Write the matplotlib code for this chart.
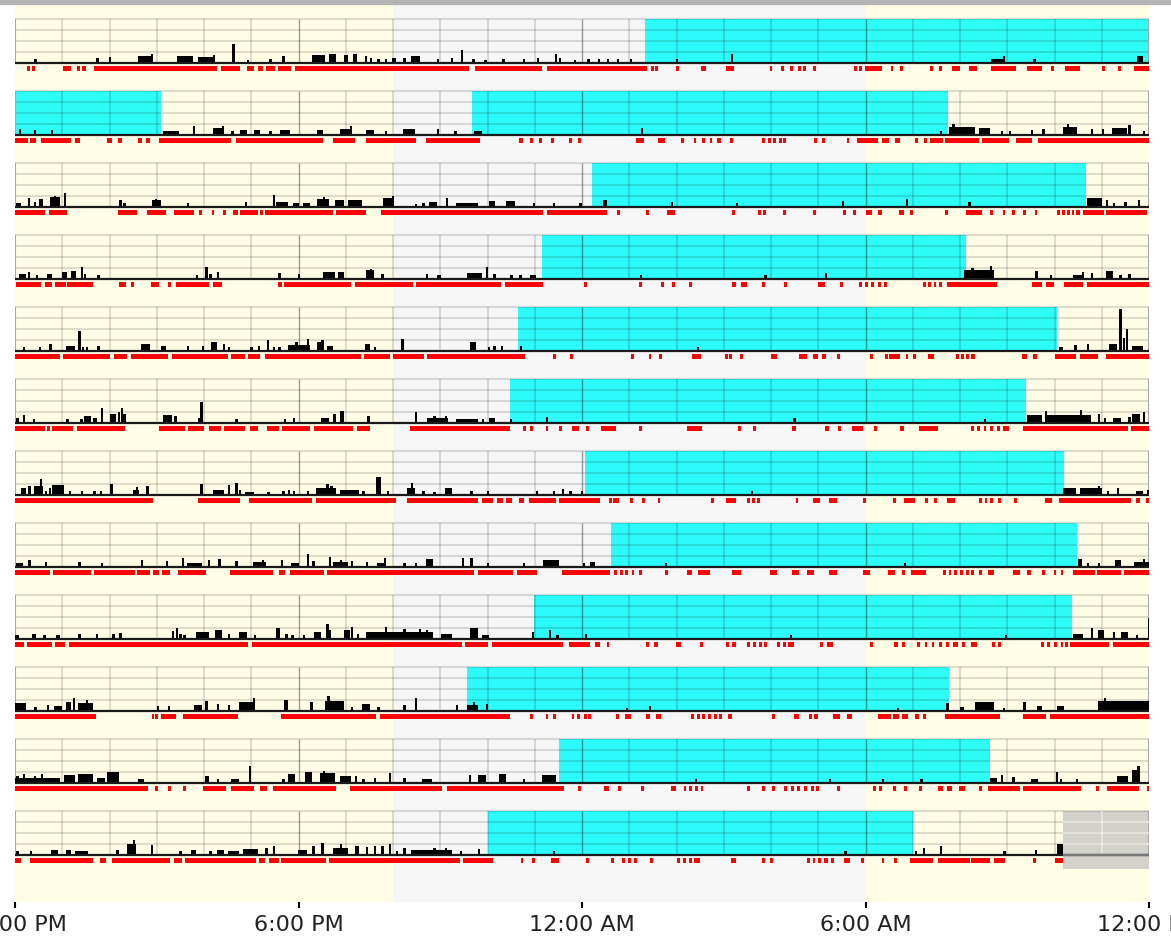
import matplotlib
matplotlib.use("Agg")
import matplotlib.pyplot as plt
from matplotlib.patches import Rectangle

# hours after 12:00 PM, one list per day row
rest_periods = [
    [(13.33, 24.0)],
    [(0.0, 3.09), (9.67, 19.75)],
    [(12.22, 22.66)],
    [(11.15, 20.13)],
    [(10.64, 22.06)],
    [(10.48, 21.39)],
    [(12.06, 22.21)],
    [(12.62, 22.47)],
    [(10.99, 22.37)],
    [(9.57, 19.76)],
    [(11.51, 20.63)],
    [(10.01, 19.0)],
]

# activity: (start hour, end hour, fraction of row height)
activity = [
    [(0.41, 0.41, .09), (1.71, 1.77, .12), (1.98, 1.98, .13), (2.61, 2.92, .15), (2.88, 2.88, .21),
     (3.43, 3.76, .15), (3.87, 4.22, .14), (4.19, 4.19, .19), (4.60, 4.60, .44), (4.90, 4.90, .06),
     (5.38, 5.38, .08), (5.66, 5.72, .15), (6.29, 6.56, .19), (6.64, 6.80, .21), (6.96, 7.04, .19),
     (7.15, 7.24, .21), (7.40, 7.40, .15), (7.51, 7.51, .11), (7.67, 7.67, .08), (7.83, 7.83, .08),
     (7.98, 8.06, .11), (8.22, 8.22, .11), (8.38, 8.57, .15), (8.93, 8.93, .08), (9.22, 9.22, .11),
     (9.44, 9.44, .29), (9.68, 9.68, .08), (9.93, 9.93, .06), (10.31, 10.31, .08), (10.75, 10.75, .08),
     (11.04, 11.04, .11), (11.43, 11.43, .21), (11.51, 11.51, .11), (11.83, 11.83, .06), (12.11, 12.11, .08),
     (12.33, 12.33, .08), (12.52, 12.52, .08), (12.74, 12.74, .08), (13.01, 13.01, .09), (13.99, 13.99, .08),
     (15.15, 15.15, .21), (20.66, 20.90, .10), (20.90, 20.90, .15), (21.55, 21.55, .10), (23.75, 23.87, .15)],
    [(0.08, 0.08, .14), (0.40, 0.40, .12), (0.76, 0.76, .12), (3.13, 3.48, .08), (3.76, 3.76, .20),
     (4.19, 4.43, .15), (4.38, 4.38, .20), (4.58, 4.58, .08), (4.77, 4.90, .11), (5.06, 5.19, .12),
     (5.38, 5.38, .08), (5.61, 5.82, .12), (6.40, 6.51, .11), (6.88, 7.11, .13), (7.08, 7.08, .20),
     (7.43, 7.59, .12), (7.83, 7.83, .08), (8.22, 8.46, .14), (8.93, 8.93, .14), (9.30, 9.30, .10),
     (9.72, 9.88, .08), (13.25, 13.25, .15), (19.57, 19.57, .08), (19.76, 20.32, .18), (19.84, 19.84, .25),
     (20.40, 20.63, .15), (20.87, 20.87, .08), (21.03, 21.03, .08), (21.50, 21.50, .11), (21.74, 21.74, .14),
     (22.17, 22.48, .18), (22.26, 22.26, .25), (22.77, 22.77, .14), (23.00, 23.00, .14), (23.21, 23.53, .15),
     (23.56, 23.56, .22), (23.87, 23.87, .08)],
    [(0.03, 0.13, .10), (0.27, 0.27, .20), (0.40, 0.40, .12), (0.51, 0.60, .18), (0.74, 0.95, .22),
     (0.82, 0.82, .25), (1.03, 1.03, .32), (2.21, 2.21, .16), (2.29, 2.29, .08), (2.89, 3.08, .15),
     (2.96, 2.96, .18), (3.64, 3.64, .08), (4.87, 4.87, .12), (5.45, 5.45, .28), (5.53, 5.77, .11),
     (5.88, 6.00, .10), (6.09, 6.25, .08), (6.40, 6.64, .18), (6.51, 6.51, .22), (6.77, 6.96, .15),
     (7.05, 7.35, .15), (7.78, 8.00, .20), (7.98, 7.98, .25), (8.46, 8.46, .06), (8.62, 8.62, .08),
     (8.77, 8.93, .12), (9.12, 9.12, .20), (9.33, 9.80, .08), (10.04, 10.15, .14), (10.39, 10.59, .14),
     (10.96, 10.96, .08), (11.38, 11.38, .08), (11.94, 11.94, .08), (12.44, 12.52, .15), (13.88, 13.88, .12),
     (15.26, 15.26, .08), (17.50, 17.50, .14), (18.85, 18.85, .18), (20.16, 20.24, .12), (22.69, 23.00, .20),
     (23.08, 23.08, .15), (23.24, 23.24, .10), (23.48, 23.48, .12), (23.77, 23.77, .16)],
    [(0.08, 0.24, .12), (0.27, 0.27, .15), (0.44, 0.44, .10), (0.68, 0.79, .12), (1.00, 1.11, .15),
     (1.19, 1.30, .18), (1.39, 1.39, .28), (1.45, 1.50, .12), (1.74, 1.74, .08), (3.83, 3.83, .10),
     (4.03, 4.03, .28), (4.11, 4.11, .12), (4.27, 4.27, .17), (5.57, 5.57, .13), (5.98, 5.98, .11),
     (6.51, 6.77, .17), (6.83, 6.96, .17), (7.43, 7.59, .20), (7.51, 7.51, .22), (7.75, 7.75, .12),
     (8.70, 8.70, .12), (8.93, 9.01, .08), (9.56, 9.88, .14), (9.96, 9.96, .28), (10.12, 10.12, .12),
     (10.48, 10.48, .10), (10.67, 10.67, .08), (10.91, 11.02, .08), (13.22, 13.22, .08), (15.86, 15.86, .08),
     (17.14, 17.14, .14), (20.09, 20.71, .20), (20.24, 20.24, .25), (20.63, 20.63, .30), (21.58, 21.66, .18),
     (21.90, 21.90, .10), (22.40, 22.58, .10), (22.58, 22.58, .15), (22.77, 22.77, .14), (23.08, 23.24, .18),
     (23.37, 23.37, .10), (23.56, 23.56, .12)],
    [(0.16, 0.16, .10), (0.51, 0.51, .10), (0.71, 0.79, .16), (1.08, 1.26, .12), (1.34, 1.34, .45),
     (1.42, 1.42, .10), (1.50, 1.50, .10), (1.74, 1.74, .12), (2.66, 2.85, .15), (3.08, 3.19, .12),
     (3.64, 3.64, .12), (3.95, 3.95, .12), (4.14, 4.27, .20), (4.40, 4.40, .15), (4.51, 4.51, .10),
     (4.98, 4.98, .10), (5.14, 5.14, .12), (5.33, 5.33, .25), (5.45, 5.45, .10), (5.57, 5.57, .10),
     (5.77, 6.25, .14), (5.93, 5.93, .20), (6.17, 6.17, .27), (6.40, 6.51, .20), (6.48, 6.48, .25),
     (6.61, 6.72, .12), (7.40, 7.51, .15), (7.59, 7.59, .10), (8.17, 8.24, .28), (9.64, 9.76, .20),
     (10.00, 10.00, .10), (10.12, 10.12, .12), (10.28, 10.28, .12), (10.69, 10.69, .12), (14.43, 14.43, .08),
     (22.10, 22.17, .10), (22.42, 22.42, .13), (22.69, 22.69, .16), (23.16, 23.32, .15), (23.37, 23.37, .96),
     (23.45, 23.45, .30), (23.51, 23.51, .50), (23.64, 23.87, .12)],
    [(0.03, 0.03, .12), (0.16, 0.16, .18), (0.38, 0.38, .08), (1.08, 1.15, .08), (1.38, 1.38, .08),
     (1.47, 1.61, .15), (1.66, 1.74, .12), (1.82, 1.82, .35), (2.01, 2.13, .20), (2.18, 2.18, .25),
     (2.24, 2.24, .35), (2.29, 2.29, .20), (3.13, 3.32, .18), (3.37, 3.37, .15), (3.87, 3.98, .12),
     (3.92, 3.92, .48), (4.66, 4.66, .10), (5.69, 5.69, .10), (5.88, 5.93, .12), (6.48, 6.64, .12),
     (6.72, 6.80, .20), (6.88, 6.96, .28), (7.46, 7.46, .15), (8.46, 8.46, .25), (8.73, 9.17, .12),
     (8.85, 8.85, .15), (9.09, 9.09, .17), (9.33, 9.80, .10), (9.88, 9.88, .10), (10.04, 10.15, .12),
     (10.47, 10.47, .10), (11.23, 11.23, .13), (16.47, 16.47, .12), (20.51, 20.51, .08), (21.42, 21.74, .18),
     (21.79, 21.79, .28), (21.82, 22.77, .18), (22.53, 22.53, .30), (22.92, 22.92, .20), (23.04, 23.04, .12),
     (23.24, 23.40, .12), (23.56, 23.56, .14), (23.64, 23.80, .20), (23.87, 23.87, .25)],
    [(0.13, 0.24, .15), (0.28, 0.28, .20), (0.40, 0.60, .20), (0.52, 0.52, .37), (0.63, 0.63, .10),
     (0.71, 0.71, .15), (0.79, 1.03, .22), (1.14, 1.14, .08), (1.39, 1.39, .08), (1.66, 1.66, .08),
     (1.79, 1.79, .10), (2.02, 2.02, .25), (2.50, 2.62, .12), (2.56, 2.56, .18), (2.78, 2.78, .20),
     (3.92, 3.92, .26), (4.19, 4.43, .12), (4.51, 4.51, .22), (4.66, 4.66, .28), (4.74, 4.74, .11),
     (4.87, 5.06, .07), (5.34, 5.34, .07), (5.66, 5.66, .08), (5.77, 5.77, .12), (5.88, 5.88, .08),
     (6.17, 6.17, .08), (6.36, 6.80, .15), (6.59, 6.59, .25), (6.67, 6.67, .20), (6.88, 7.27, .12),
     (7.35, 7.35, .10), (7.64, 7.75, .40), (7.87, 7.87, .10), (8.30, 8.46, .17), (8.38, 8.38, .28),
     (8.62, 8.62, .08), (8.85, 8.85, .06), (9.09, 9.25, .15), (9.64, 9.64, .10), (9.99, 9.99, .08),
     (11.02, 11.02, .08), (11.38, 11.38, .08), (11.57, 11.57, .14), (11.73, 11.73, .08), (11.98, 11.98, .10),
     (15.57, 15.57, .08), (22.17, 22.45, .15), (22.53, 23.00, .15), (22.92, 22.92, .20), (23.11, 23.11, .10),
     (23.32, 23.32, .15), (23.72, 23.87, .10), (23.95, 23.95, .12)],
    [(0.03, 0.16, .10), (0.28, 0.28, .16), (0.63, 0.63, .11), (1.34, 1.34, .11), (1.82, 1.82, .08),
     (2.66, 2.66, .15), (3.19, 3.19, .14), (3.53, 3.53, .20), (3.64, 3.95, .08), (4.08, 4.08, .15),
     (4.30, 4.30, .18), (4.66, 4.66, .13), (5.03, 5.31, .12), (5.22, 5.22, .17), (5.63, 5.63, .17),
     (5.85, 6.00, .10), (6.17, 6.17, .30), (6.29, 6.29, .13), (6.64, 6.64, .22), (6.72, 7.04, .12),
     (6.88, 6.88, .17), (7.11, 7.11, .14), (7.43, 7.43, .12), (7.67, 7.83, .08), (7.80, 7.80, .20),
     (8.22, 8.22, .08), (8.46, 8.46, .08), (8.70, 8.85, .18), (9.45, 9.45, .20), (9.64, 9.64, .20),
     (9.99, 9.99, .08), (10.75, 10.75, .08), (11.18, 11.51, .15), (12.02, 12.02, .10), (12.17, 12.28, .12),
     (13.75, 13.75, .08), (18.81, 18.81, .08), (22.50, 22.58, .18), (22.69, 22.69, .10), (22.92, 22.92, .08),
     (23.27, 23.40, .16), (23.68, 24.00, .12), (23.87, 23.87, .18)],
    [(0.00, 0.08, .08), (0.35, 0.44, .12), (0.60, 0.60, .10), (0.87, 0.95, .10), (1.34, 1.34, .12),
     (1.71, 1.71, .12), (2.06, 2.06, .12), (2.21, 2.21, .14), (3.32, 3.32, .18), (3.40, 3.40, .25),
     (3.48, 3.48, .12), (3.56, 3.56, .10), (3.83, 4.11, .15), (4.24, 4.38, .20), (4.51, 4.51, .12),
     (4.74, 4.90, .17), (5.06, 5.06, .08), (5.53, 5.61, .25), (5.72, 5.72, .12), (5.85, 5.85, .10),
     (6.09, 6.09, .10), (6.32, 6.48, .15), (6.59, 6.59, .33), (6.64, 6.64, .20), (6.96, 7.08, .20),
     (7.11, 7.11, .27), (7.24, 7.24, .12), (7.43, 8.85, .16), (7.83, 7.83, .28), (8.22, 8.22, .22),
     (8.54, 8.54, .22), (8.70, 8.70, .20), (9.01, 9.25, .12), (9.64, 9.80, .25), (9.88, 10.04, .10),
     (10.94, 10.94, .15), (11.30, 11.30, .21), (11.46, 11.46, .08), (12.06, 12.06, .12), (16.40, 16.40, .08),
     (20.95, 20.95, .08), (22.40, 22.61, .12), (22.77, 22.77, .25), (22.92, 23.04, .20), (23.24, 23.24, .15),
     (23.40, 23.56, .15), (23.72, 23.72, .10), (23.97, 23.97, .47)],
    [(0.00, 0.24, .18), (0.40, 0.47, .10), (0.68, 0.68, .14), (0.82, 1.00, .12), (1.08, 1.19, .20),
     (1.23, 1.23, .30), (1.34, 1.66, .18), (1.50, 1.50, .25), (3.00, 3.00, .12), (3.24, 3.24, .12),
     (3.79, 3.95, .14), (4.03, 4.03, .22), (4.27, 4.27, .15), (4.51, 4.51, .14), (4.74, 5.06, .20),
     (5.03, 5.03, .30), (5.69, 5.77, .25), (6.25, 6.25, .20), (6.56, 6.96, .22), (6.61, 6.61, .33),
     (7.11, 7.11, .08), (7.35, 7.51, .17), (7.67, 7.67, .08), (8.22, 8.22, .14), (8.46, 8.46, .30),
     (9.33, 9.33, .14), (9.57, 9.80, .14), (9.69, 9.69, .20), (9.96, 9.96, .16), (12.93, 12.93, .07),
     (13.41, 13.41, .12), (18.66, 18.66, .07), (19.71, 19.71, .18), (20.00, 20.08, .10), (20.32, 20.71, .20),
     (20.90, 20.90, .07), (21.34, 21.34, .20), (21.63, 21.74, .12), (22.06, 22.21, .12), (22.92, 24.00, .22),
     (23.04, 23.04, .30)],
    [(0.00, 0.95, .12), (0.03, 0.03, .15), (0.16, 0.16, .20), (0.40, 0.40, .15), (0.55, 0.55, .20),
     (1.03, 1.26, .18), (1.34, 1.66, .20), (1.74, 1.90, .12), (1.95, 2.21, .25), (2.61, 2.74, .10),
     (4.03, 4.11, .15), (4.27, 4.27, .08), (4.58, 4.74, .10), (4.95, 4.95, .38), (5.66, 5.66, .10),
     (5.77, 5.93, .20), (6.14, 6.29, .25), (6.45, 6.77, .22), (6.51, 6.51, .28), (6.88, 7.11, .15),
     (7.19, 7.19, .15), (7.35, 7.35, .10), (7.59, 7.59, .12), (7.91, 7.91, .22), (8.22, 8.22, .12),
     (8.62, 8.82, .10), (9.60, 9.60, .18), (9.80, 9.96, .18), (10.25, 10.40, .20), (10.75, 10.75, .08),
     (11.15, 11.46, .18), (14.39, 14.39, .09), (17.23, 17.23, .09), (18.34, 18.34, .08), (19.16, 19.16, .08),
     (20.63, 20.79, .12), (20.87, 20.87, .18), (21.11, 21.11, .14), (21.50, 21.66, .10), (22.03, 22.03, .24),
     (22.11, 22.11, .10), (22.45, 22.45, .10), (23.32, 23.56, .15), (23.64, 23.80, .30), (23.75, 23.75, .38)],
    [(0.03, 0.03, .08), (0.32, 0.32, .08), (0.76, 0.92, .12), (1.08, 1.19, .12), (1.26, 1.55, .10),
     (2.13, 2.21, .12), (2.37, 2.56, .25), (2.50, 2.50, .33), (2.88, 2.92, .22), (3.48, 3.48, .08),
     (3.72, 3.83, .12), (4.11, 4.11, .10), (4.27, 4.43, .12), (4.51, 4.74, .10), (4.82, 5.14, .13),
     (5.30, 5.30, .17), (5.45, 5.45, .20), (5.98, 6.17, .12), (6.29, 6.29, .20), (6.48, 6.48, .28),
     (6.72, 7.04, .17), (6.88, 6.88, .25), (7.19, 7.27, .20), (7.43, 7.43, .18), (7.59, 7.59, .20),
     (7.75, 7.75, .20), (7.91, 7.91, .25), (8.06, 8.06, .08), (8.22, 8.22, .15), (8.38, 9.25, .12),
     (8.85, 8.85, .17), (9.09, 9.09, .15), (9.41, 9.41, .08), (9.80, 9.80, .14), (11.38, 11.38, .10),
     (17.55, 17.55, .10), (19.05, 19.05, .08), (19.21, 19.21, .15), (19.57, 19.57, .20), (20.92, 20.92, .10),
     (21.58, 21.58, .12), (22.06, 22.17, .25)],
]

# red marks below each row: (start hour, end hour)
red_marks = [
    [(0.25, 0.32), (0.36, 0.43), (1.01, 1.19), (1.31, 1.38), (1.42, 1.50), (1.68, 4.27), (4.35, 4.77),
     (4.90, 5.06), (5.14, 5.25), (5.31, 5.50), (5.57, 5.85), (5.93, 9.61), (9.74, 11.15), (11.26, 13.38),
     (13.47, 13.47), (13.55, 13.55), (13.99, 13.99), (14.51, 14.62), (15.05, 15.21), (15.97, 15.97),
     (16.21, 16.28), (16.41, 16.41), (16.57, 16.57), (16.68, 16.68), (16.89, 16.89), (17.76, 17.76),
     (17.87, 17.87), (17.99, 18.34), (18.53, 18.53), (18.74, 18.74), (19.37, 19.37), (19.56, 19.56),
     (19.84, 20.00), (20.19, 20.35), (20.66, 21.19), (21.42, 21.74), (21.93, 21.93), (22.23, 22.53),
     (23.00, 23.00), (23.35, 23.35), (23.68, 24.00)],
    [(0.00, 0.27), (0.32, 0.44), (0.55, 1.19), (1.26, 1.38), (1.94, 2.06), (2.18, 2.26), (2.61, 2.69),
     (2.78, 2.85), (3.05, 4.58), (4.68, 6.51), (6.72, 7.19), (7.43, 8.49), (8.70, 9.85), (10.67, 10.75),
     (10.91, 10.91), (11.10, 11.10), (11.35, 11.35), (11.73, 11.73), (11.91, 11.91), (13.15, 13.31),
     (13.60, 13.75), (14.10, 14.10), (14.36, 14.36), (14.55, 14.55), (14.70, 14.70), (14.86, 14.94),
     (15.13, 15.13), (15.81, 15.84), (15.93, 15.96), (16.05, 16.08), (16.17, 16.20), (16.25, 16.28),
     (16.92, 16.92), (17.08, 17.08), (17.60, 17.60), (17.83, 18.26), (18.34, 18.50), (18.62, 18.74),
     (19.05, 19.05), (19.24, 19.24), (19.37, 19.64), (19.68, 20.40), (20.47, 21.03), (21.19, 21.53),
     (21.66, 24.00)],
    [(0.00, 0.63), (0.71, 1.11), (2.18, 2.58), (2.80, 3.19), (3.37, 3.79), (3.90, 3.90), (4.16, 4.16),
     (4.40, 4.40), (4.62, 4.71), (4.77, 5.14), (5.19, 5.19), (5.30, 6.72), (6.80, 7.43), (7.75, 11.18),
     (11.26, 12.52), (12.74, 12.74), (13.36, 13.36), (13.80, 13.96), (15.18, 15.18), (15.73, 15.73),
     (15.84, 15.84), (16.25, 16.25), (16.89, 16.89), (17.52, 17.52), (17.74, 17.74), (18.02, 18.13),
     (18.26, 18.34), (18.70, 18.81), (18.94, 18.94), (19.68, 19.68), (20.13, 20.47), (20.63, 20.63),
     (20.90, 20.90), (21.11, 21.11), (21.34, 21.34), (21.58, 21.58), (22.06, 22.10), (22.16, 22.20),
     (22.26, 22.30), (22.36, 22.40), (22.46, 22.53), (22.61, 23.05), (23.08, 23.95)],
    [(0.03, 0.55), (0.63, 0.79), (0.84, 1.08), (1.11, 1.66), (2.21, 2.34), (2.45, 2.45), (2.88, 3.04),
     (3.24, 3.24), (3.40, 4.11), (4.19, 4.38), (5.57, 5.66), (5.69, 7.11), (7.19, 8.43), (8.49, 10.28),
     (10.36, 11.18), (12.05, 12.05), (13.20, 13.20), (13.68, 13.68), (13.91, 13.91), (14.26, 14.26),
     (15.18, 15.26), (15.36, 15.49), (15.81, 15.81), (16.28, 16.28), (17.00, 17.15), (17.47, 17.47),
     (17.87, 17.92), (17.98, 18.05), (18.12, 18.18), (18.26, 18.32), (18.40, 18.45), (19.21, 19.26),
     (19.32, 19.38), (19.44, 19.50), (19.56, 19.62), (19.73, 20.79), (21.53, 21.74), (21.82, 21.98),
     (22.21, 22.61), (22.69, 24.00)],
    [(0.00, 0.95), (1.01, 2.02), (2.09, 2.37), (2.45, 3.24), (3.32, 4.51), (4.58, 4.87), (4.93, 5.19),
     (5.30, 7.32), (7.38, 7.94), (8.00, 8.66), (8.73, 10.80), (11.38, 11.38), (11.75, 11.75), (13.03, 13.03),
     (13.41, 13.41), (13.63, 13.63), (14.32, 14.51), (15.02, 15.05), (15.12, 15.18), (15.34, 15.34),
     (16.00, 16.13), (16.60, 16.76), (16.89, 17.00), (17.08, 17.17), (17.39, 17.39), (18.10, 18.10),
     (18.42, 18.42), (18.50, 18.74), (18.85, 18.85), (19.00, 19.00), (19.32, 19.45), (19.92, 19.96),
     (20.03, 20.07), (20.13, 20.17), (20.24, 20.32), (21.31, 21.42), (21.55, 21.63), (22.01, 22.45),
     (22.53, 22.92), (23.08, 24.00)],
    [(0.00, 0.63), (0.68, 0.74), (0.79, 1.23), (1.31, 2.32), (3.05, 3.59), (3.67, 4.00), (4.11, 4.35),
     (4.43, 4.87), (4.98, 5.14), (5.33, 5.58), (5.66, 6.25), (6.32, 7.16), (7.24, 7.51), (8.35, 10.48),
     (10.75, 10.75), (10.91, 10.91), (11.23, 11.23), (11.51, 11.51), (11.78, 11.94), (12.09, 12.09),
     (12.41, 12.73), (13.20, 13.20), (14.23, 14.55), (15.30, 15.30), (15.62, 15.62), (16.44, 16.52),
     (17.15, 17.23), (17.42, 17.42), (17.71, 17.94), (18.18, 18.18), (18.74, 18.81), (19.13, 19.53),
     (20.24, 20.28), (20.36, 20.40), (20.50, 20.54), (20.64, 20.68), (20.78, 20.82), (20.92, 21.03),
     (21.34, 23.56), (23.62, 24.00)],
    [(0.00, 2.92), (3.87, 4.77), (4.95, 6.29), (6.36, 8.06), (8.30, 9.80), (9.88, 10.12), (10.20, 10.32),
     (10.39, 10.51), (10.67, 10.78), (10.88, 11.45), (11.51, 12.38), (12.57, 12.60), (12.65, 12.68),
     (12.73, 12.77), (13.01, 13.01), (13.28, 13.28), (13.60, 13.60), (14.74, 14.74), (15.05, 15.26),
     (15.49, 15.52), (15.60, 15.63), (15.70, 15.73), (16.52, 16.52), (16.89, 17.04), (17.23, 17.39),
     (17.94, 17.94), (18.58, 18.58), (18.81, 19.05), (19.26, 19.26), (19.45, 19.45), (19.73, 19.89),
     (20.40, 20.44), (20.52, 20.56), (20.64, 20.68), (20.80, 20.87), (21.15, 21.15), (21.79, 21.94),
     (22.09, 23.62), (23.72, 23.80), (23.93, 23.93)],
    [(0.00, 0.74), (0.81, 1.60), (1.68, 2.53), (2.58, 2.85), (2.92, 3.04), (3.11, 3.29), (3.46, 4.05),
     (4.54, 5.47), (5.58, 5.72), (5.82, 6.53), (6.61, 9.72), (9.80, 10.53), (10.62, 11.04), (11.57, 12.60),
     (12.68, 12.72), (12.80, 12.84), (12.92, 12.96), (13.05, 13.09), (13.20, 13.28), (13.75, 13.75),
     (14.23, 14.33), (14.45, 14.70), (15.18, 15.37), (15.97, 16.13), (16.44, 16.60), (16.76, 16.92),
     (17.23, 17.39), (17.94, 18.10), (18.47, 18.62), (18.78, 18.78), (18.97, 19.29), (19.64, 19.68),
     (19.76, 19.80), (19.88, 19.92), (20.00, 20.04), (20.12, 20.16), (20.24, 20.28), (20.40, 20.44),
     (20.60, 20.71), (21.12, 21.26), (21.42, 21.50), (21.74, 21.74), (21.98, 21.98), (22.13, 22.13),
     (22.40, 22.85), (22.90, 23.40), (23.48, 24.00)],
    [(0.00, 0.19), (0.25, 0.79), (0.85, 1.06), (1.15, 4.93), (5.01, 9.45), (9.53, 10.02), (10.09, 11.59),
     (11.73, 12.17), (12.28, 12.38), (12.52, 12.52), (13.36, 13.40), (13.52, 13.60), (13.99, 14.10),
     (14.50, 14.50), (15.05, 15.09), (15.18, 15.26), (15.49, 15.53), (15.62, 15.66), (15.75, 15.79),
     (15.85, 15.89), (16.13, 16.17), (16.25, 16.29), (16.37, 16.49), (17.04, 17.08), (17.18, 17.31),
     (18.10, 18.10), (18.61, 18.69), (18.77, 18.81), (19.10, 19.14), (19.25, 19.29), (19.40, 19.44),
     (19.55, 19.59), (19.70, 19.74), (19.85, 19.95), (20.04, 20.08), (20.24, 20.36), (20.68, 20.72),
     (20.80, 20.87), (21.71, 21.75), (21.85, 21.89), (21.99, 22.03), (22.13, 22.17), (22.22, 22.26),
     (22.32, 23.16), (23.24, 24.00)],
    [(0.00, 1.71), (2.89, 2.93), (2.96, 3.00), (3.08, 3.40), (3.56, 4.71), (5.64, 7.64), (7.72, 10.48),
     (10.91, 10.91), (11.23, 11.27), (11.38, 11.46), (11.78, 11.82), (11.90, 11.94), (12.05, 12.09),
     (12.13, 12.17), (12.73, 12.77), (12.90, 13.04), (13.36, 13.44), (13.56, 13.68), (14.31, 14.35),
     (14.43, 14.47), (14.55, 14.59), (14.67, 14.71), (14.79, 14.83), (14.91, 14.95), (15.10, 15.18),
     (16.02, 16.02), (16.49, 16.60), (16.81, 16.85), (16.92, 17.00), (17.31, 17.45), (17.60, 17.71),
     (18.26, 18.54), (18.58, 18.70), (18.78, 18.89), (19.05, 19.13), (19.21, 19.29), (19.68, 20.84),
     (21.34, 21.82), (21.90, 24.00)],
    [(0.00, 2.81), (2.96, 2.96), (3.24, 3.24), (3.56, 3.56), (3.98, 4.46), (4.58, 5.06), (5.19, 5.34),
     (5.45, 6.80), (7.08, 9.04), (9.14, 11.62), (11.91, 11.91), (12.46, 12.57), (12.77, 12.77),
     (13.25, 13.25), (13.88, 13.99), (14.15, 14.19), (14.27, 14.31), (14.39, 14.43), (14.51, 14.55),
     (15.49, 15.49), (15.81, 15.81), (16.02, 16.02), (16.28, 16.32), (16.42, 16.46), (16.56, 16.60),
     (16.70, 16.74), (16.84, 16.88), (16.96, 17.00), (17.39, 17.39), (18.15, 18.22), (18.28, 18.34),
     (18.58, 18.58), (18.81, 18.81), (19.13, 19.13), (19.53, 19.63), (19.73, 19.84), (19.97, 20.11),
     (20.40, 20.40), (20.59, 21.27), (21.34, 22.56), (22.88, 22.88), (23.11, 23.78), (23.95, 23.95)],
    [(0.00, 0.13), (0.32, 1.66), (1.79, 1.93), (2.06, 3.29), (3.37, 3.53), (3.59, 5.11), (5.16, 5.30),
     (5.38, 5.58), (5.64, 6.59), (6.64, 9.41), (9.49, 10.12), (10.70, 10.70), (10.94, 10.94), (11.35, 11.51),
     (12.09, 12.09), (12.62, 12.62), (12.85, 12.89), (12.97, 13.01), (13.09, 13.17), (13.44, 13.44),
     (14.02, 14.06), (14.14, 14.18), (14.26, 14.30), (14.38, 14.50), (15.15, 15.26), (15.81, 15.85),
     (15.97, 16.05), (16.76, 16.80), (16.88, 16.92), (17.00, 17.04), (17.12, 17.20), (17.27, 17.31),
     (17.55, 17.68), (17.90, 17.90), (18.34, 18.34), (18.61, 18.61), (18.94, 19.42), (19.53, 20.21),
     (20.24, 20.63), (20.71, 20.95), (21.55, 21.55), (22.01, 22.17)],
]

no_data = (22.17, 24.0)          # greyed part of the last row
night_shade = (8.0, 18.0)        # 8 PM .. 6 AM
tick_hours = [0, 6, 12, 18, 24]
tick_labels = ["12:00 PM", "6:00 PM", "12:00 AM", "6:00 AM", "12:00 PM"]

# layout in pixel units (y grows downward)
ROW0, STEP, H = 20, 72, 44
W, HGT = 1171, 937
Y_TOP, Y_BOT = 6, 903

fig = plt.figure(figsize=(W / 100, HGT / 100), dpi=100)
fig.patches.append(Rectangle((0, 1 - 5 / HGT), 1, 5 / HGT, transform=fig.transFigure,
                             color="#b4b4b4", zorder=0))
ax = fig.add_axes([15 / W, 1 - Y_BOT / HGT, 1134 / W, (Y_BOT - Y_TOP) / HGT])
ax.set_xlim(0, 24)
ax.set_ylim(Y_BOT, Y_TOP)
ax.set_facecolor("#fffde6")
ax.axvspan(*night_shade, color="#f6f6f6", lw=0, zorder=0)

grid_kw = dict(color="black", alpha=0.13, lw=1.5, zorder=3)
for i in range(12):
    top = ROW0 + i * STEP
    base = top + H
    spans = [(s, e - s) for s, e in rest_periods[i]]
    ax.broken_barh(spans, (top, H), color="#00fcfc", alpha=0.82, lw=0, zorder=1)
    if i == 11:
        ax.add_patch(Rectangle((no_data[0], top), no_data[1] - no_data[0], 58,
                               color="#d2d2ca", lw=0, zorder=2))
    for k in range(4):
        ax.hlines(top + k * 11, 0, 24, **grid_kw)
    minor = [h for h in range(1, 24) if h % 6]
    ax.vlines(minor, top, base, **grid_kw)
    ax.vlines([6, 12, 18], top, base, color="black", alpha=0.38, lw=1.0, zorder=3)
    ax.vlines([0, 24], top, base, color="#a8a8a8", lw=1.5, zorder=3)
    if i == 11:
        ax.hlines([top + 11, top + 22, top + 33], no_data[0], 24, color="white", alpha=0.6, lw=1.5, zorder=3.1)
        ax.vlines([23], top, base, color="white", alpha=0.6, lw=1.5, zorder=3.1)

    xs = [s for s, e, f in activity[i]]
    ws = [max(e - s, 0.05) for s, e, f in activity[i]]
    hs = [-f * H for s, e, f in activity[i]]
    ax.bar(xs, hs, width=ws, bottom=base, align="edge", color="black", lw=0, zorder=4)

    ax.hlines(base, 0, 24, color="#1a1a1a", lw=1.6, zorder=5)
    if i == 11:
        ax.hlines(base, no_data[0], 24, color="#777777", lw=1.6, zorder=5.1)

    reds = [(s, max(e - s, 0.06)) for s, e in red_marks[i]]
    ax.broken_barh(reds, (base + 3, 5), color="#ff0000", lw=0, zorder=4)

for side in ax.spines.values():
    side.set_visible(False)
ax.set_yticks([])
ax.set_xticks(tick_hours)
ax.set_xticklabels(tick_labels, fontsize=16, family="DejaVu Sans", color="#222222")
ax.tick_params(axis="x", length=4, width=1.5, pad=5, color="black")

fig.savefig("out.png", dpi=100, facecolor="white")
